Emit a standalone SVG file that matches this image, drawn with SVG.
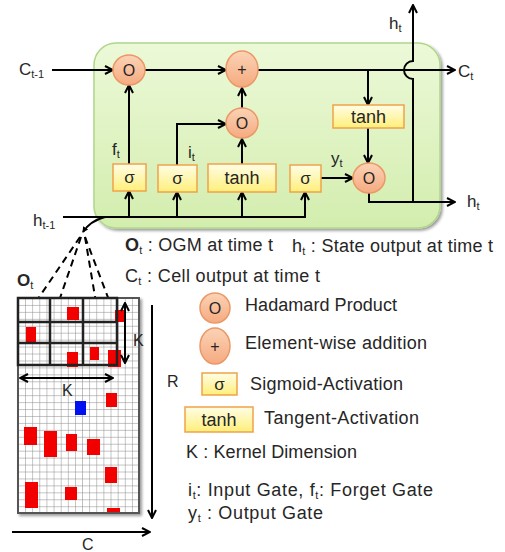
<svg xmlns="http://www.w3.org/2000/svg" width="505" height="552" viewBox="0 0 505 552">
<defs>
<linearGradient id="gGreen" x1="0" y1="0" x2="0" y2="1"><stop offset="0" stop-color="#ecf9d8"/><stop offset="1" stop-color="#d3edae"/></linearGradient>
<linearGradient id="gOrange" x1="0" y1="0" x2="0" y2="1"><stop offset="0" stop-color="#fbd3b6"/><stop offset="1" stop-color="#f5aa80"/></linearGradient>
<linearGradient id="gYellow" x1="0" y1="0" x2="0" y2="1"><stop offset="0" stop-color="#fffde6"/><stop offset="1" stop-color="#ffef7a"/></linearGradient>
<marker id="arr" viewBox="0 0 10 10" refX="9" refY="5" markerWidth="10" markerHeight="10" markerUnits="userSpaceOnUse" orient="auto-start-reverse"><path d="M1,1 L9,5 L1,9" fill="none" stroke="#000" stroke-width="2"/></marker>
<marker id="dot" viewBox="0 0 6 6" refX="5" refY="3" markerWidth="6" markerHeight="6" markerUnits="userSpaceOnUse" orient="auto"><path d="M0,0 L6,3 L0,6 Z" fill="#000"/></marker>
<pattern id="fine" patternUnits="userSpaceOnUse" x="18" y="298" width="7.12" height="6.94"><path d="M0,0 H7.12 M0,0 V6.94" fill="none" stroke="#8a8a8a" stroke-width="1"/></pattern>
<filter id="sh" x="-10%" y="-10%" width="130%" height="130%"><feGaussianBlur in="SourceAlpha" stdDeviation="1.5"/><feOffset dx="2" dy="2"/><feComponentTransfer><feFuncA type="linear" slope="0.4"/></feComponentTransfer><feMerge><feMergeNode/><feMergeNode in="SourceGraphic"/></feMerge></filter>
</defs>
<style>
text{font-family:"Liberation Sans",Arial,sans-serif;fill:#262626;}
.t{font-size:17px;}
.th{font-size:18px;}
.n{font-size:16px;}
.c{text-anchor:middle;}
.sub{font-size:11px;}
.lg{font-size:18px;}
.circ{fill:url(#gOrange);stroke:#eb9866;stroke-width:1.5;}
.box{fill:url(#gYellow);stroke:#f0a24a;stroke-width:1.5;}
.ln{fill:none;stroke:#000;stroke-width:2;}
.la{fill:none;stroke:#000;stroke-width:2;marker-end:url(#arr);}
.dash{fill:none;stroke:#000;stroke-width:2;stroke-dasharray:7,5;}
.red{fill:#f20000;}
</style>
<rect width="505" height="552" fill="#fff"/>

<g id="cell"><rect x="94" y="43" width="346" height="185" rx="22" fill="url(#gGreen)" stroke="#b0d68a" stroke-width="1.5" filter="url(#sh)"/></g>

<g id="connectors">
<path class="la" d="M52,70 H113"/>
<path class="la" d="M145,70 H226"/>
<path class="la" d="M258,70 H455"/>
<path class="la" d="M413,202 V79 A9,9 0 0 1 413,61 V5"/>
<path class="la" d="M368,70 V105"/>
<path class="la" d="M368,128 V163"/>
<path class="la" d="M369,193 V202 H455"/>
<path class="la" d="M321,178 H353"/>
<path class="la" d="M63,217 H305 V192"/>
<path class="la" d="M129,217 V191"/>
<path class="la" d="M177,217 V192"/>
<path class="la" d="M242,217 V192"/>
<path class="la" d="M129,164 V85"/>
<path class="la" d="M177,165 V124 H226"/>
<path class="la" d="M242,164 V139"/>
<path class="la" d="M242,108 V88"/>
<path class="ln" d="M105,217 Q90,221 83,232" marker-end="url(#dot)"/>
<path class="dash" d="M80,237 L29,312"/>
<path class="dash" d="M81,237 L38,362"/>
<path class="dash" d="M85,237 L112,308"/>
<path class="dash" d="M85,237 L106,362"/>
</g>

<g id="mul-f"><ellipse class="circ" cx="129" cy="70" rx="16" ry="15"/><text class="n c" x="129" y="75.5">O</text></g>
<g id="add"><ellipse class="circ" cx="242" cy="69" rx="16" ry="18"/><text class="n c" x="242" y="74.5">+</text></g>
<g id="mul-i"><ellipse class="circ" cx="242" cy="123" rx="16" ry="15"/><text class="n c" x="242" y="128.5">O</text></g>
<g id="mul-o"><ellipse class="circ" cx="369" cy="178" rx="16" ry="15"/><text class="n c" x="369" y="183.5">O</text></g>
<g id="sig-f"><rect class="box" x="113" y="164" width="33" height="27"/><text class="t c" x="129.5" y="183">σ</text></g>
<g id="sig-i"><rect class="box" x="158" y="165" width="39" height="27"/><text class="t c" x="177.5" y="184">σ</text></g>
<g id="tanh-c"><rect class="box" x="208" y="164" width="68" height="28"/><text class="th c" x="242" y="184">tanh</text></g>
<g id="sig-o"><rect class="box" x="290" y="165" width="31" height="27"/><text class="t c" x="305.5" y="184">σ</text></g>
<g id="tanh-o"><rect class="box" x="333" y="105" width="71" height="23"/><text class="th c" x="368.5" y="123">tanh</text></g>

<g id="labels">
<text class="t" x="19" y="75">C<tspan class="sub" dy="3">t-1</tspan></text>
<text class="t" x="458" y="77">C<tspan class="sub" dy="3">t</tspan></text>
<text class="t" x="389" y="29">h<tspan class="sub" dy="3">t</tspan></text>
<text class="t" x="467" y="207">h<tspan class="sub" dy="3">t</tspan></text>
<text class="t" x="33" y="226">h<tspan class="sub" dy="3">t-1</tspan></text>
<text class="t" x="112" y="155">f<tspan class="sub" dy="3">t</tspan></text>
<text class="t" x="188" y="158">i<tspan class="sub" dy="3">t</tspan></text>
<text class="t" x="331" y="164">y<tspan class="sub" dy="3">t</tspan></text>
</g>

<g id="grid">
<rect x="18" y="298" width="121" height="215" fill="#fff" stroke="#555" stroke-width="2" filter="url(#sh)"/>
<rect x="18" y="298" width="121" height="215" fill="url(#fine)"/>
<rect class="red" x="67" y="307" width="12" height="13"/>
<rect class="red" x="115" y="310" width="9" height="12"/>
<rect class="red" x="26" y="327" width="10" height="15"/>
<rect class="red" x="67" y="352" width="11" height="15"/>
<rect class="red" x="90" y="347" width="9" height="13"/>
<rect class="red" x="108" y="350" width="13" height="17"/>
<rect class="red" x="106" y="393" width="11" height="14"/>
<rect x="75" y="401" width="11" height="14" fill="#0010f0"/>
<rect class="red" x="24" y="427" width="13" height="18"/>
<rect class="red" x="44" y="431" width="13" height="26"/>
<rect class="red" x="66" y="434" width="11" height="17"/>
<rect class="red" x="87" y="439" width="13" height="16"/>
<rect class="red" x="105" y="467" width="12" height="16"/>
<rect class="red" x="25" y="482" width="13" height="26"/>
<rect class="red" x="65" y="487" width="12" height="13"/>
<rect class="red" x="107" y="508" width="13" height="5"/>
<rect x="18" y="298" width="121" height="215" fill="none" stroke="#555" stroke-width="2"/>
<path d="M18,298 H117 V365 H18 Z M50,298 V365 M83,298 V365 M18,322 H117 M18,343 H117" fill="none" stroke="#222" stroke-width="2.5"/>
<path class="ln" d="M125,303 V363" marker-start="url(#arr)" marker-end="url(#arr)"/>
<path class="ln" d="M20,378 H113" marker-start="url(#arr)" marker-end="url(#arr)"/>
<path class="la" d="M152,305 V518"/>
<path class="la" d="M12,532 H150"/>
<text class="n" x="133" y="346">K</text>
<text class="n" x="62" y="396">K</text>
<text class="n" x="167" y="387">R</text>
<text class="n" x="82" y="550">C</text>
<text class="t" x="17" y="286" font-weight="bold">O<tspan class="sub" dy="3" font-weight="normal">t</tspan></text>
</g>

<g id="legend">
<text class="lg" x="125" y="251" textLength="148"><tspan font-weight="bold">O</tspan><tspan class="sub" dy="3">t</tspan><tspan dy="-3"> : OGM at time t</tspan></text>
<text class="lg" x="292" y="252" textLength="201">h<tspan class="sub" dy="3">t</tspan><tspan dy="-3"> : State output at time t</tspan></text>
<text class="lg" x="125" y="282" textLength="195">C<tspan class="sub" dy="3">t</tspan><tspan dy="-3"> : Cell output at time t</tspan></text>
<g id="leg-mul"><ellipse class="circ" cx="215" cy="308" rx="15" ry="15"/><text class="n c" x="215" y="313.5">O</text></g>
<text class="lg" x="245" y="311" textLength="152">Hadamard Product</text>
<g id="leg-add"><ellipse class="circ" cx="215" cy="346" rx="15" ry="18"/><text class="n c" x="215" y="351.5">+</text></g>
<text class="lg" x="245" y="349" textLength="182">Element-wise addition</text>
<g id="leg-sig"><rect class="box" x="202" y="373" width="35" height="22"/><text class="t c" x="219.5" y="390">σ</text></g>
<text class="lg" x="250" y="390" textLength="153">Sigmoid-Activation</text>
<g id="leg-tanh"><rect class="box" x="185" y="407" width="68" height="25"/><text class="th c" x="219" y="426">tanh</text></g>
<text class="lg" x="264" y="424" textLength="155">Tangent-Activation</text>
<text class="lg" x="186" y="458" textLength="171">K : Kernel Dimension</text>
<text class="lg" x="188" y="496" textLength="245">i<tspan class="sub" dy="3">t</tspan><tspan dy="-3">: Input Gate,  f</tspan><tspan class="sub" dy="3">t</tspan><tspan dy="-3">: Forget Gate</tspan></text>
<text class="lg" x="188" y="519" textLength="135">y<tspan class="sub" dy="3">t</tspan><tspan dy="-3"> : Output Gate</tspan></text>
</g>
</svg>
